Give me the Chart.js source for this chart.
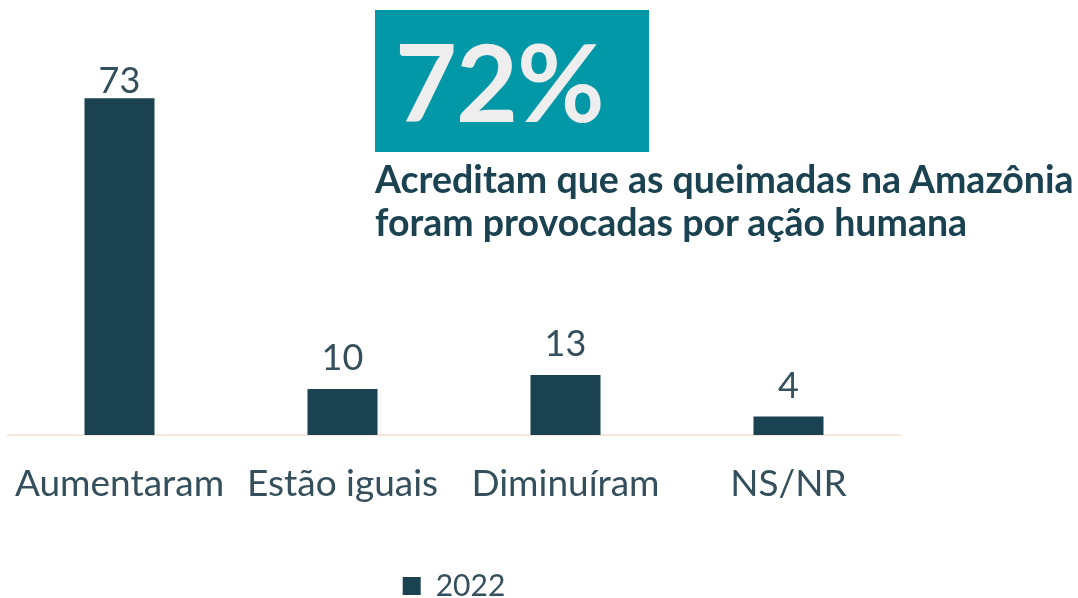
<!DOCTYPE html>
<html>
<head>
<meta charset="utf-8">
<script src="https://cdn.jsdelivr.net/npm/chart.js@4/dist/chart.umd.min.js"></script>
<style>
  html, body { margin: 0; padding: 0; background: #fff; }
  #wrap { position: relative; width: 1078px; height: 598px; overflow: hidden; font-family: Lato, sans-serif; }
  #chart { position: absolute; left: 0; top: 0; }
  #badge {
    position: absolute; left: 375px; top: 10px; width: 274px; height: 142px;
    background: #0398a8; color: #eeeeee; font-weight: 700; font-size: 107px;
    line-height: 142px; box-sizing: border-box; padding-left: 20px; letter-spacing: -1px;
  }
  #note {
    position: absolute; left: 375px; top: 157px; color: #1b4250;
    font-weight: 700; font-size: 37.5px; line-height: 43px; white-space: nowrap;
  }
</style>
</head>
<body>
<div id="wrap">
  <canvas id="chart" width="1078" height="598"></canvas>
  <div id="badge">72%</div>
  <div id="note">Acreditam que as queimadas na Amazônia<br>foram provocadas por ação humana</div>
</div>
<script>
const categories = ['Aumentaram', 'Estão iguais', 'Diminuíram', 'NS/NR'];
const series2022 = [73, 10, 13, 4];
const seriesLabel = '2022';

const barColor = '#1b4250';
const textColor = '#35505c';

// numbers above each bar, kept inside the plot area at the top
const valueLabels = {
  id: 'valueLabels',
  afterDatasetsDraw(chart) {
    const ctx = chart.ctx;
    const minY = chart.chartArea.top + 27;
    ctx.save();
    ctx.font = '36px Lato';
    ctx.fillStyle = textColor;
    ctx.textAlign = 'center';
    ctx.textBaseline = 'alphabetic';
    chart.data.datasets.forEach((ds, i) => {
      chart.getDatasetMeta(i).data.forEach((bar, j) => {
        ctx.fillText(String(ds.data[j]), bar.x, Math.max(bar.y - 19, minY));
      });
    });
    ctx.restore();
  }
};

new Chart(document.getElementById('chart'), {
  type: 'bar',
  data: {
    labels: categories,
    datasets: [{
      label: seriesLabel,
      data: series2022,
      backgroundColor: barColor,
      barPercentage: 0.314,
      categoryPercentage: 1
    }]
  },
  options: {
    responsive: false,
    animation: false,
    layout: { padding: { left: 8, right: 178, top: 66, bottom: -13 } },
    scales: {
      x: {
        grid: { display: false },
        border: { display: true, color: '#f7e6da', width: 2 },
        ticks: { color: textColor, font: { family: 'Lato', size: 37 }, padding: 19, maxRotation: 0 },
        afterFit(scale) {
          // fixed axis band; long labels may overhang the plot edges
          scale.height = 126;
          scale.paddingLeft = 0;
          scale.paddingRight = 0;
        }
      },
      y: {
        display: false,
        min: 0,
        max: 80
      }
    },
    plugins: {
      legend: {
        position: 'bottom',
        labels: {
          color: textColor,
          font: { family: 'Lato', size: 30 },
          boxWidth: 18,
          boxHeight: 18,
          padding: 10
        }
      },
      tooltip: { enabled: false }
    }
  },
  plugins: [valueLabels]
});
</script>
</body>
</html>
